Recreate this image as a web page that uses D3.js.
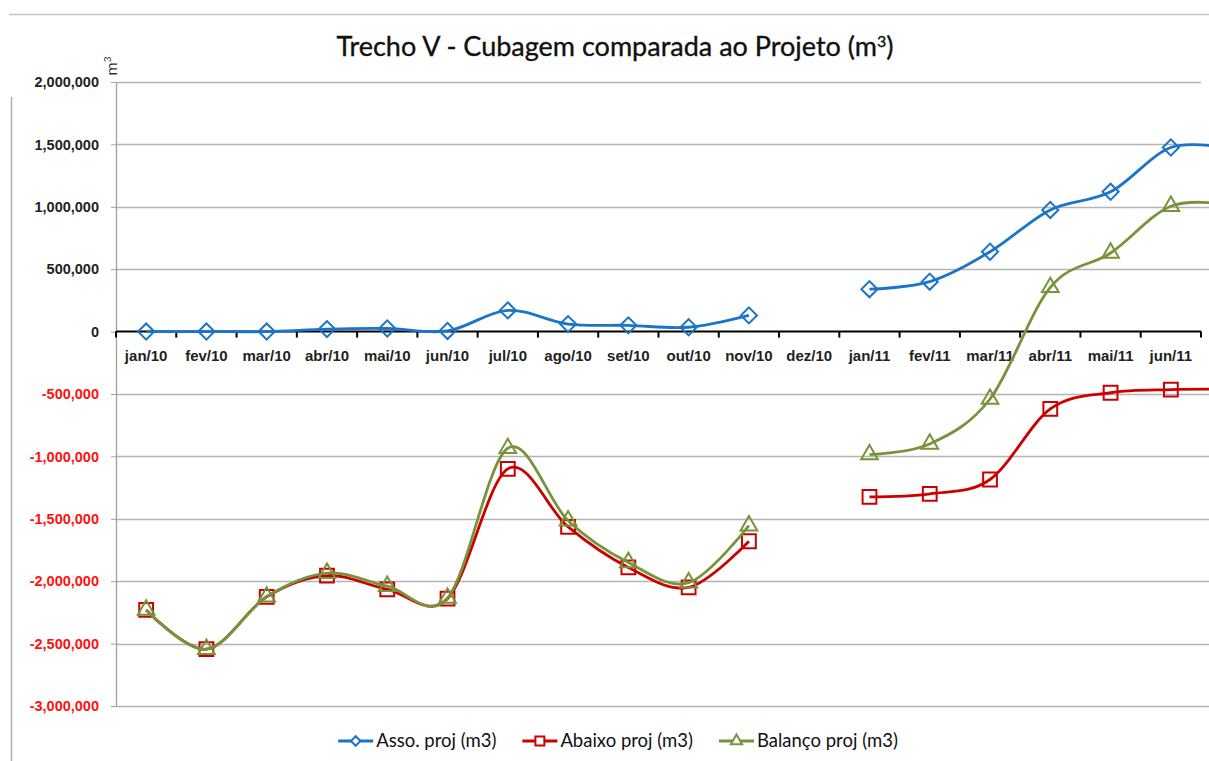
<!DOCTYPE html>
<html>
<head>
<meta charset="utf-8">
<script src="https://cdn.jsdelivr.net/npm/d3@7"></script>
<style>
    body { margin: 0; background: #fff; }
    svg { display: block; font-family: Lato, "Open Sans", sans-serif; }
</style>
</head>
<body>
<div id="chart"></div>
<script>
// categories (jul/11 sits just past the right edge, only its line segment shows)
const months = ['jan/10', 'fev/10', 'mar/10', 'abr/10', 'mai/10', 'jun/10', 'jul/10', 'ago/10', 'set/10', 'out/10', 'nov/10', 'dez/10',
    'jan/11', 'fev/11', 'mar/11', 'abr/11', 'mai/11', 'jun/11'];
const hiddenMonth = 'jul/11';

// series values (m3)
const asso = [0, 0, 0, 20000, 25000, 5000, 170000, 60000, 50000, 35000, 130000, null,
    340000, 400000, 640000, 975000, 1120000, 1475000, 1465000];
const abaixo = [-2230000, -2545000, -2125000, -1955000, -2065000, -2140000, -1100000, -1565000, -1890000, -2050000, -1680000, null,
    -1325000, -1300000, -1185000, -620000, -490000, -465000, -462000];
const balanco = [-2230000, -2545000, -2125000, -1935000, -2040000, -2135000, -935000, -1515000, -1850000, -2012000, -1555000, null,
    -985000, -900000, -540000, 355000, 630000, 1005000, 1015000];

const yTicks = [2000000, 1500000, 1000000, 500000, 0, -500000, -1000000, -1500000, -2000000, -2500000, -3000000];

const seriesNames = ['Asso. proj (m3)', 'Abaixo proj (m3)', 'Balanço proj (m3)'];
const colors = ['#1B74C8', '#CC0000', '#77933C'];

const width = 1209, height = 761;
const plot = { left: 116, right: 1201, top: 82, bottom: 706 };
const step = (plot.right - plot.left) / months.length;

const svg = d3.select('#chart').append('svg')
    .attr('width', width)
    .attr('height', height);

// chart frame
svg.append('line').attr('x1', 9).attr('x2', width).attr('y1', 14.5).attr('y2', 14.5)
    .attr('stroke', '#c4c4c4').attr('stroke-width', 1.5);
svg.append('line').attr('x1', 11.5).attr('x2', 11.5).attr('y1', 97).attr('y2', height)
    .attr('stroke', '#b0b0b0').attr('stroke-width', 1.5);

// title
const title = svg.append('text')
    .attr('x', 615)
    .attr('y', 56)
    .attr('text-anchor', 'middle')
    .style('font-size', '27px')
    .style('fill', '#111')
    .style('stroke', '#111')
    .style('stroke-width', 0.35);
title.append('tspan').text('Trecho V - Cubagem comparada ao Projeto (m');
title.append('tspan').attr('dy', -9).style('font-size', '16px').text('3');
title.append('tspan').attr('dy', 9).text(')');

const allMonths = months.concat([hiddenMonth]);
const x = d3.scaleBand()
    .domain(allMonths)
    .range([plot.left, plot.left + step * allMonths.length])
    .paddingInner(0).paddingOuter(0);
const cx = m => x(m) + x.bandwidth() / 2;

const y = d3.scaleLinear()
    .domain([-3000000, 2000000])
    .range([plot.bottom, plot.top]);

const fmt = v => d3.format(',')(v).replace('\u2212', '-');

// gridlines
svg.append('g')
    .selectAll('line')
    .data(yTicks.filter(t => t !== 0))
    .enter()
    .append('line')
    .attr('x1', plot.left)
    .attr('x2', t => t === yTicks[0] ? plot.right : width)
    .attr('y1', t => Math.round(y(t)) + 0.5)
    .attr('y2', t => Math.round(y(t)) + 0.5)
    .attr('stroke', '#b4b4b4')
    .attr('stroke-width', 1.3);

// y axis
const yAxis = svg.append('g')
    .attr('transform', `translate(${plot.left},0)`)
    .call(d3.axisLeft(y).tickValues(yTicks).tickSize(5).tickSizeOuter(0).tickPadding(12).tickFormat(fmt));
yAxis.select('.domain').attr('stroke', '#a0a0a0').attr('stroke-width', 1.3);
yAxis.selectAll('.tick line').attr('stroke', '#a0a0a0');
yAxis.selectAll('.tick text')
    .style('font-size', '14.5px')
    .style('font-weight', 'bold')
    .style('fill', d => d < 0 ? '#FF1010' : '#222');

// x axis on zero line
const y0 = y(0);
const xAxis = svg.append('g')
    .attr('transform', `translate(0,${y0})`)
    .call(d3.axisBottom(x).tickValues(months).tickSize(0).tickPadding(19));
xAxis.select('.domain').remove();
xAxis.selectAll('.tick text')
    .style('font-size', '15px')
    .style('font-weight', 'bold')
    .style('fill', '#222');

svg.append('line')
    .attr('x1', plot.left).attr('x2', plot.right)
    .attr('y1', y0).attr('y2', y0)
    .attr('stroke', '#000').attr('stroke-width', 2);
svg.append('g')
    .selectAll('line')
    .data(months.map(m => x(m)).concat([x(months[months.length - 1]) + x.bandwidth()]))
    .enter()
    .append('line')
    .attr('x1', d => d).attr('x2', d => d)
    .attr('y1', y0).attr('y2', y0 + 6)
    .attr('stroke', '#000').attr('stroke-width', 2);

// series
const allSeries = [asso, abaixo, balanco].map((vals, i) => ({
    name: seriesNames[i],
    color: colors[i],
    values: vals.map((v, j) => ({ m: allMonths[j], v }))
}));

const line = d3.line()
    .defined(d => d.v !== null)
    .x(d => cx(d.m))
    .y(d => y(d.v))
    .curve(d3.curveCardinal.tension(0));

const symbols = [
    { type: d3.symbolSquare, size: 130, rotate: 45 },
    { type: d3.symbolSquare, size: 190, rotate: 0 },
    { type: d3.symbolTriangle, size: 120, rotate: 0 }
];
const legendSymbols = [
    { type: d3.symbolSquare, size: 45, rotate: 45 },
    { type: d3.symbolSquare, size: 80, rotate: 0 },
    { type: d3.symbolTriangle, size: 55, rotate: 0 }
];

allSeries.forEach((s, i) => {
    const g = svg.append('g');
    g.append('path')
        .datum(s.values)
        .attr('d', line)
        .attr('fill', 'none')
        .attr('stroke', s.color)
        .attr('stroke-width', 2.8);
    g.selectAll('.mark')
        .data(s.values.filter(d => d.v !== null && months.includes(d.m)))
        .enter()
        .append('path')
        .attr('class', 'mark')
        .attr('d', d3.symbol().type(symbols[i].type).size(symbols[i].size))
        .attr('transform', d => `translate(${cx(d.m)},${y(d.v)}) rotate(${symbols[i].rotate})`)
        .attr('fill', 'none')
        .attr('stroke', s.color)
        .attr('stroke-width', 2);
});

// legend
const legend = svg.append('g');
const legendY = 741;
const items = legend.selectAll('g')
    .data(allSeries)
    .enter()
    .append('g');
items.append('text')
    .attr('x', 38)
    .attr('y', legendY + 6)
    .style('font-size', '18.5px')
    .style('fill', '#111')
    .text(d => d.name);
const widths = [];
items.each(function() {
    widths.push(38 + d3.select(this).select('text').node().getComputedTextLength());
});
const gap = 26;
const total = d3.sum(widths) + gap * (widths.length - 1);
let start = 618 - total / 2;
items.each(function(d, i) {
    const g = d3.select(this).attr('transform', `translate(${start},0)`);
    g.append('line')
        .attr('x1', 0).attr('x2', 35)
        .attr('y1', legendY).attr('y2', legendY)
        .attr('stroke', d.color).attr('stroke-width', 2.8);
    g.append('path')
        .attr('d', d3.symbol().type(legendSymbols[i].type).size(legendSymbols[i].size))
        .attr('transform', `translate(17.5,${legendY}) rotate(${legendSymbols[i].rotate})`)
        .attr('fill', '#fff')
        .attr('stroke', d.color)
        .attr('stroke-width', 2);
    start += widths[i] + gap;
});

// unit label at top of the value axis
const unit = svg.append('text')
    .attr('transform', 'translate(117,66) rotate(-90)')
    .attr('text-anchor', 'middle')
    .style('font-size', '16px')
    .style('fill', '#333');
unit.append('tspan').text('m');
unit.append('tspan').attr('dy', -6).style('font-size', '10px').text('3');
</script>
</body>
</html>
